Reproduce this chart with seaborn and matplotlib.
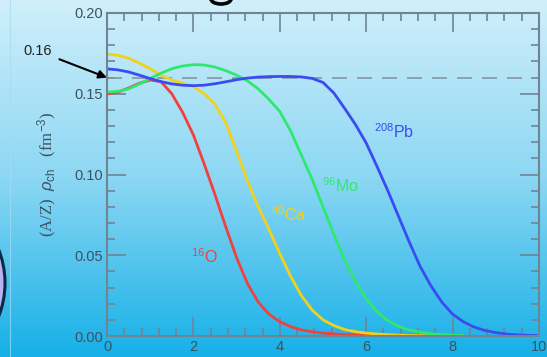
#! /usr/bin/env python3
import matplotlib
matplotlib.use("Agg")
import matplotlib.pyplot as plt
from matplotlib.patches import Ellipse, Arc
from matplotlib.ticker import MultipleLocator
import seaborn as sns
import numpy as np
import pandas as pd

# radius grid (fm), shared by all nuclei
r = [0.0, 0.25, 0.5, 0.75, 1.0, 1.25, 1.5, 1.75, 2.0, 2.25, 2.5, 2.75, 3.0,
     3.25, 3.5, 3.75, 4.0, 4.25, 4.5, 4.75, 5.0, 5.25, 5.5, 5.75, 6.0, 6.25,
     6.5, 6.75, 7.0, 7.25, 7.5, 7.75, 8.0, 8.25]
r_pb = r + [8.5, 8.75, 9.0, 9.25, 9.5, 9.75, 10.0]

rho_o16 = [0.1498, 0.151, 0.1535, 0.1565, 0.1585, 0.1575, 0.150, 0.1385,
           0.1245, 0.1065, 0.0875, 0.0675, 0.0485, 0.0325, 0.021, 0.0135,
           0.0088, 0.0058, 0.0038, 0.0026, 0.0018, 0.0013, 0.0009, 0.0007,
           0.0005, 0.0004, 0.0003, 0.0002, 0.0002, 0.0001, 0.0001, 0.0001,
           0.0, 0.0]
rho_ca40 = [0.1745, 0.1738, 0.172, 0.169, 0.1655, 0.1615, 0.1585, 0.1565,
            0.1545, 0.150, 0.1435, 0.132, 0.1145, 0.096, 0.080, 0.066,
            0.051, 0.037, 0.025, 0.016, 0.010, 0.0065, 0.004, 0.0027,
            0.0018, 0.0012, 0.0008, 0.0005, 0.0003, 0.0002, 0.0001, 0.0001,
            0.0, 0.0]
rho_mo96 = [0.151, 0.1515, 0.153, 0.156, 0.1595, 0.1627, 0.1655, 0.1672,
            0.168, 0.1678, 0.1665, 0.1643, 0.1615, 0.158, 0.153, 0.1465,
            0.139, 0.127, 0.112, 0.097, 0.080, 0.063, 0.047, 0.034,
            0.023, 0.015, 0.0095, 0.006, 0.0037, 0.0023, 0.0014, 0.0008,
            0.0005, 0.0003]
rho_pb208 = [0.1654, 0.1648, 0.1635, 0.1615, 0.1594, 0.1575, 0.1561, 0.1553,
             0.155, 0.1553, 0.1562, 0.1574, 0.1587, 0.1597, 0.1603, 0.1606,
             0.1607, 0.1607, 0.1604, 0.1595, 0.157, 0.1505, 0.141, 0.131,
             0.1195, 0.105, 0.090, 0.074, 0.058, 0.043, 0.031, 0.021,
             0.0135, 0.0088, 0.0055, 0.0034, 0.0021, 0.0012, 0.0007, 0.0004,
             0.0002]

nuclei = ["O16", "Ca40", "Mo96", "Pb208"]
labels = ["$^{16}$O", "$^{40}$Ca", "$^{96}$Mo", "$^{208}$Pb"]
label_pos = [(1.95, 0.045), (3.8, 0.071), (4.98, 0.089), (6.18, 0.1225)]
colors = ["#f0413f", "#f2d11c", "#2fe86e", "#3a4cf0"]
saturation = 0.16


def build_frame():
    parts = []
    for name, rr, rho in zip(nuclei, [r, r, r, r_pb],
                             [rho_o16, rho_ca40, rho_mo96, rho_pb208]):
        parts.append(pd.DataFrame({"r": rr, "rho": rho, "nucleus": name}))
    return pd.concat(parts, ignore_index=True)


def main():
    data = build_frame()
    sns.set_style("ticks")
    plt.rcParams['font.family'] = ['Liberation Sans', 'DejaVu Sans']
    plt.rcParams['mathtext.fontset'] = 'custom'
    plt.rcParams['mathtext.rm'] = 'Liberation Sans'
    plt.rcParams['mathtext.it'] = 'Liberation Sans:italic'

    fig = plt.figure(figsize=(5.47, 3.57), dpi=100)

    # gradient background
    bg = fig.add_axes([0, 0, 1, 1], zorder=-5)
    top = np.array([208, 239, 251]) / 255
    mid = np.array([140, 215, 243]) / 255
    bot = np.array([22, 176, 232]) / 255
    t = np.linspace(0, 1, 256)[:, None]
    grad = np.where(t < 0.5, top + (mid - top) * (t / 0.5),
                    mid + (bot - mid) * ((t - 0.5) / 0.5))
    bg.imshow(grad[:, None, :], aspect='auto', extent=[0, 1, 0, 1])
    bg.axvline(10 / 547, color="#a6dcf3", lw=0.8, alpha=0.7)
    bg.add_patch(Ellipse((-87 / 547, 1 - 283 / 357), 184 / 547, 184 / 357,
                         facecolor="#b8b2f2", edgecolor="#0b2a48", lw=2.2))
    # bottom of a cut-off title letter at the top edge
    bg.add_patch(Arc((221 / 547, 1 + 1 / 357), 20 / 547, 10 / 357,
                     theta1=180, theta2=360, color='black', lw=2.6))
    bg.set_xlim(0, 1)
    bg.set_ylim(0, 1)
    bg.axis('off')

    ax = fig.add_axes([107 / 547, 1 - 336 / 357, 432 / 547, 323 / 357])
    ax.set_facecolor('none')

    ax.axhline(saturation, color="#8496a2", lw=1.2, dashes=(9, 6), zorder=1)
    sns.lineplot(data=data, x="r", y="rho", hue="nucleus", hue_order=nuclei,
                 palette=colors, linewidth=2.0, legend=False, ax=ax,
                 estimator=None, sort=False)
    for line in ax.get_lines():
        line.set_solid_joinstyle('round')

    for lab, (x, y), c in zip(labels, label_pos, colors):
        ax.text(x, y, lab, color=c, fontsize=11.5, ha='left', va='baseline')

    ax.set_xlim(0, 10)
    ax.set_ylim(0, 0.20)
    ax.xaxis.set_major_locator(MultipleLocator(2))
    ax.xaxis.set_minor_locator(MultipleLocator(0.4))
    ax.yaxis.set_minor_locator(MultipleLocator(0.01))
    ax.set_xticks([0, 2, 4, 6, 8, 10])
    ax.set_xticklabels(["0", "2", "4", "6", "8", "10"])
    ax.set_yticks([0, 0.05, 0.10, 0.15, 0.20])
    ax.set_yticklabels(["0.00", "0.05", "0.10", "0.15", "0.20"])
    spine_col = "#6f8593"
    ax.tick_params(which='both', direction='in', top=True, right=True,
                   color=spine_col, labelcolor="#3c5260", labelsize=10.5,
                   width=1.2, pad=3)
    ax.tick_params(which='major', length=14)
    ax.tick_params(which='minor', length=6)
    for s in ax.spines.values():
        s.set_color(spine_col)
        s.set_linewidth(1.5)
    ax.set_xlabel("")
    ax.set_ylabel(r"(A/Z)  $\rho_{\rm ch}$   (fm$^{-3}$)",
                  family=['Liberation Serif', 'DejaVu Serif'],
                  fontsize=12, color="#3c5260", labelpad=11)

    ax.annotate("0.16", xy=(0, saturation), xycoords='data',
                xytext=(38 / 547, 1 - 51 / 357), textcoords='figure fraction',
                ha='center', va='center', fontsize=10.5, color="#222222",
                arrowprops=dict(arrowstyle='-|>', color='black', lw=1.5,
                                shrinkA=3, shrinkB=0, mutation_scale=12),
                annotation_clip=False)

    fig.savefig("out.png", dpi=100)


if __name__ == "__main__":
    main()
